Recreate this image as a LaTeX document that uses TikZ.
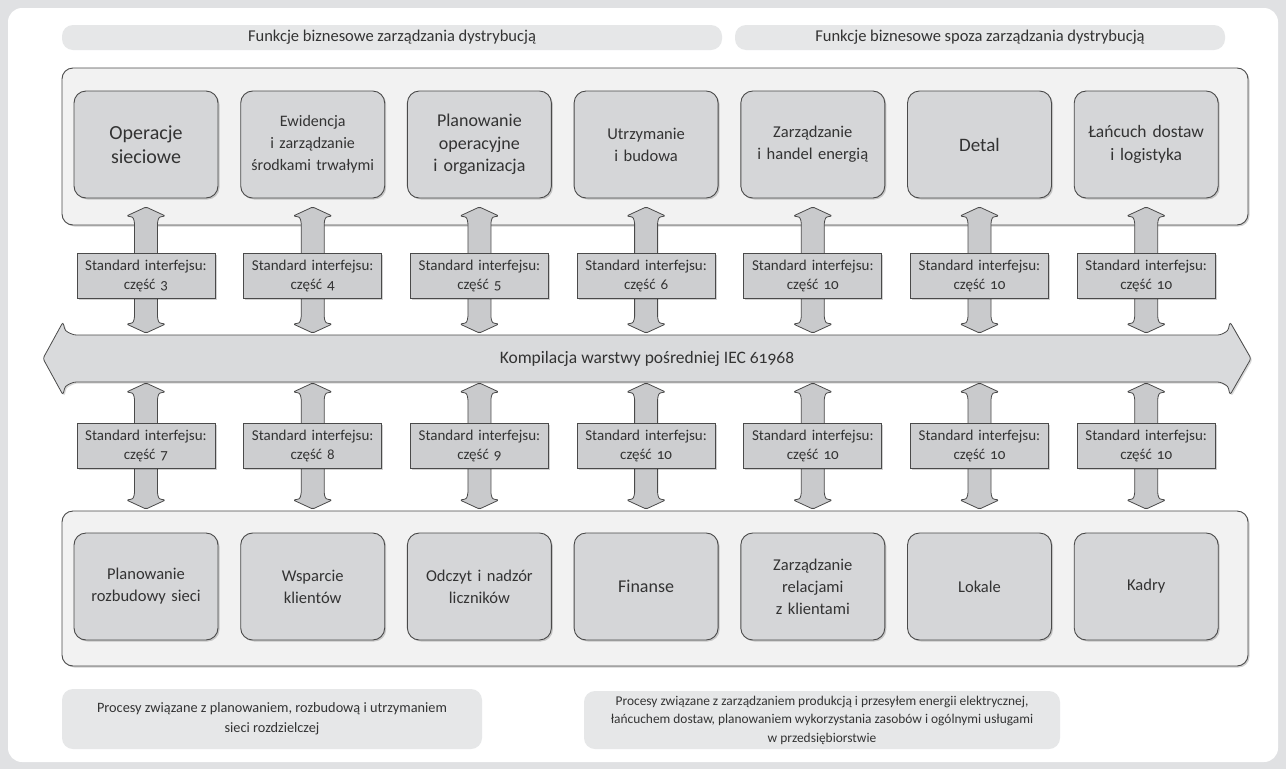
\documentclass[tikz,border=0pt]{standalone}
\usepackage{fontspec}
\setmainfont{Carlito}[Numbers=OldStyle]
\usetikzlibrary{calc,shadows}
\definecolor{bgout}{HTML}{E0E1E3}
\definecolor{hdrfill}{HTML}{E6E7E8}
\definecolor{outerfill}{HTML}{F2F2F2}
\definecolor{innerfill}{HTML}{D5D6D8}
\definecolor{stdfill}{HTML}{CDCED0}
\definecolor{arrfill}{HTML}{C9CACC}
\definecolor{busfill}{HTML}{D9DADC}
\definecolor{linecol}{HTML}{4A4A4A}
\definecolor{txt}{HTML}{333333}
\newcommand\vdarrow[2]{%
  \draw[varrow] (#1) -- ($(#1)+(19.5,9)$) .. controls ($(#1)+(13,10)$) .. ($(#1)+(11.5,15)$)
    -- ($(#2)+(11.5,-15)$) .. controls ($(#2)+(13,-10)$) .. ($(#2)+(19.5,-9)$)
    -- (#2) -- ($(#2)+(-19.5,-9)$) .. controls ($(#2)+(-13,-10)$) .. ($(#2)+(-11.5,-15)$)
    -- ($(#1)+(-11.5,15)$) .. controls ($(#1)+(-13,10)$) .. ($(#1)+(-19.5,9)$) -- cycle;}
\begin{document}
\begin{tikzpicture}[x=1pt,y=-1pt,
  every node/.style={text=txt, font=\fontsize{13}{17}\selectfont},
  hdr/.style={fill=hdrfill, rounded corners=11pt, inner sep=0pt, font=\fontsize{16.5}{19}\selectfont},
  outerbox/.style={draw=linecol, line width=0.9pt, fill=outerfill, rounded corners=11pt, inner sep=0pt,
     drop shadow={shadow xshift=1.5pt, shadow yshift=-1.5pt, opacity=0.18, fill=black}},
  innerbox/.style={draw=linecol, line width=0.9pt, fill=innerfill, rounded corners=12pt, inner sep=2pt,
     minimum width=144pt, minimum height=107pt, align=center, text width=140pt,
     font=\fontsize{16.5}{22}\selectfont,
     drop shadow={shadow xshift=1.5pt, shadow yshift=-1.5pt, opacity=0.18, fill=black}},
  stdbox/.style={draw=linecol, line width=0.9pt, fill=stdfill, inner sep=0pt,
     minimum width=138pt, minimum height=45pt, align=center, text width=136pt,
     font=\fontsize{15}{19}\selectfont,
     drop shadow={shadow xshift=1.5pt, shadow yshift=-1.5pt, opacity=0.18, fill=black}},
  varrow/.style={draw=linecol, line width=0.8pt, fill=arrfill, rounded corners=1.5pt},
  bus/.style={draw=linecol, line width=0.8pt, fill=busfill, rounded corners=2.5pt,
     drop shadow={shadow xshift=1.5pt, shadow yshift=-1.5pt, opacity=0.15, fill=black}},
  note/.style={fill=hdrfill, rounded corners=11pt, inner sep=0pt, align=center}
]
\useasboundingbox (0,0) rectangle (1286,769);
\fill[bgout] (0,0) rectangle (1286,769);
\fill[white, rounded corners=14pt] (8,8) rectangle (1278,762);

% headers
\node[hdr, minimum width=660pt, minimum height=25pt] (h1) at (392,37.5) {Funkcje biznesowe zarządzania dystrybucją};
\node[hdr, minimum width=490pt, minimum height=25pt] (h2) at (980,37.5) {Funkcje biznesowe spoza zarządzania dystrybucją};

% outer boxes
\node[outerbox, minimum width=1186pt, minimum height=157pt] (topbox) at (655,146.5) {};
\node[outerbox, minimum width=1186pt, minimum height=155pt] (botbox) at (655,588.5) {};

% arrow end coordinates
\foreach \i/\x in {1/146,2/312.7,3/479.4,4/646.1,5/812.8,6/979.5,7/1146.2}{
  \coordinate (ut\i) at (\x,207);
  \coordinate (ub\i) at (\x,333);
  \coordinate (lt\i) at (\x,383);
  \coordinate (lb\i) at (\x,509);
}
\foreach \i in {1,...,7}{
  \vdarrow{ut\i}{ub\i}
  \vdarrow{lt\i}{lb\i}
}

% bus arrow
\coordinate (busL) at (43,358.5);
\coordinate (busR) at (1251,358.5);
\draw[bus] (busL) -- (63,322) .. controls (65,331) .. (74,335) -- (1220,335)
  .. controls (1228,331) .. (1230,322) -- (busR) -- (1230,395)
  .. controls (1228,386) .. (1220,382) -- (74,382) .. controls (65,386) .. (63,395) -- cycle;
\node[font=\fontsize{17.5}{20}\selectfont] (bus) at (647,358.5) {Kompilacja warstwy pośredniej IEC 61968};

% top inner boxes
\node[innerbox, font=\fontsize{20}{24}\selectfont] (t1) at (146,144.5) {Operacje\\sieciowe};
\node[innerbox, font=\fontsize{16}{22}\selectfont] (t2) at (312.7,144.5) {Ewidencja\\i zarządzanie\\środkami trwałymi};
\node[innerbox, font=\fontsize{18}{22.5}\selectfont] (t3) at (479.4,144.5) {Planowanie\\operacyjne\\i organizacja};
\node[innerbox] (t4) at (646.1,144.5) {Utrzymanie\\i budowa};
\node[innerbox] (t5) at (812.8,144.5) {Zarządzanie\\i handel energią};
\node[innerbox, font=\fontsize{19}{22}\selectfont] (t6) at (979.5,144.5) {Detal};
\node[innerbox, font=\fontsize{17.5}{23}\selectfont] (t7) at (1146.2,144.5) {Łańcuch dostaw\\i logistyka};

% standard boxes
\foreach \i/\x/\p in {1/146/3,2/312.7/4,3/479.4/5,4/646.1/6,5/812.8/10,6/979.5/10,7/1146.2/10}{
  \node[stdbox] (su\i) at (\x,275.5) {Standard interfejsu:\\część \p};
}
\foreach \i/\x/\p in {1/146/7,2/312.7/8,3/479.4/9,4/646.1/10,5/812.8/10,6/979.5/10,7/1146.2/10}{
  \node[stdbox] (sl\i) at (\x,445.5) {Standard interfejsu:\\część \p};
}

% bottom inner boxes
\node[innerbox] (b1) at (146,586.5) {Planowanie\\rozbudowy sieci};
\node[innerbox] (b2) at (312.7,586.5) {Wsparcie\\klientów};
\node[innerbox] (b3) at (479.4,586.5) {Odczyt i nadzór\\liczników};
\node[innerbox, font=\fontsize{18}{22}\selectfont] (b4) at (646.1,586.5) {Finanse};
\node[innerbox] (b5) at (812.8,586.5) {Zarządzanie\\relacjami\\z klientami};
\node[innerbox] (b6) at (979.5,586.5) {Lokale};
\node[innerbox] (b7) at (1146.2,586.5) {Kadry};

% notes
\node[note, minimum width=420pt, minimum height=60pt, font=\fontsize{14.3}{20}\selectfont] (n1) at (272,719)
  {Procesy związane z planowaniem, rozbudową i utrzymaniem\\sieci rozdzielczej};
\node[note, minimum width=476pt, minimum height=58pt, font=\fontsize{13.4}{18.5}\selectfont] (n2) at (822,720)
  {Procesy związane z zarządzaniem produkcją i przesyłem energii elektrycznej,\\łańcuchem dostaw, planowaniem wykorzystania zasobów i ogólnymi usługami\\w przedsiębiorstwie};
\end{tikzpicture}
\end{document}
